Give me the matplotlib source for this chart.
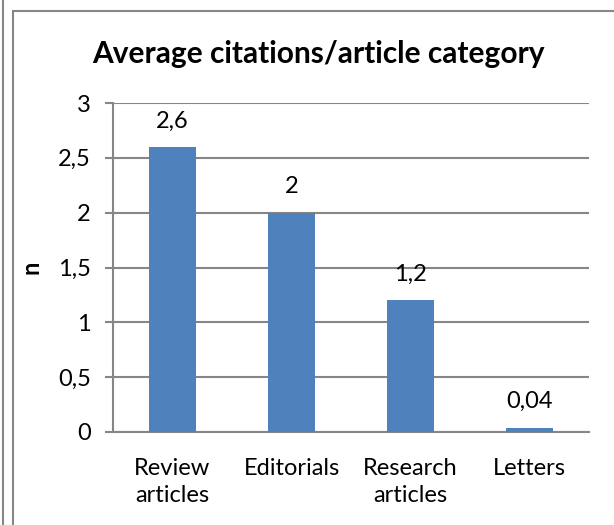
import matplotlib
matplotlib.use("Agg")
import matplotlib.pyplot as plt
from matplotlib.lines import Line2D
from matplotlib.patches import Rectangle
import numpy as np

categories = ["Review\narticles", "Editorials", "Research\narticles", "Letters"]
values = [2.6, 2.0, 1.2, 0.04]
value_labels = ["2,6", "2", "1,2", "0,04"]
yticks = [0, 0.5, 1, 1.5, 2, 2.5, 3]
ytick_labels = ["0", "0,5", "1", "1,5", "2", "2,5", "3"]

plt.rcParams["font.family"] = ["Lato", "DejaVu Sans"]
grid_col = "#868686"
bar_col = "#4F81BD"

fig = plt.figure(figsize=(6.14, 5.25), dpi=100)
W, H = 614, 525

# chart frame lines
fig.add_artist(Line2D([2.5 / W, 2.5 / W], [0, 1], color=grid_col, lw=1.5))
fig.add_artist(Rectangle((13 / W, -0.1), 1.2, 1 - 11 / H + 0.1, transform=fig.transFigure,
                         fill=False, edgecolor=grid_col, lw=1.5))

ax = fig.add_axes([113 / W, 1 - 432 / H, (589 - 113) / W, (432 - 103) / H])
x = np.arange(len(categories))
ax.bar(x, values, width=0.4, color=bar_col, zorder=3)
for xi, v, lab in zip(x, values, value_labels):
    ax.text(xi, v + 0.14, lab, ha="center", va="bottom", fontsize=17)

ax.set_xlim(-0.5, len(categories) - 0.5)
ax.set_ylim(0, 3)
ax.set_yticks(yticks)
ax.set_yticklabels(ytick_labels, fontsize=17)
ax.set_xticks(x)
ax.set_xticklabels(categories, fontsize=17, linespacing=1.35)
ax.tick_params(axis="x", length=0, pad=19)
ax.tick_params(axis="y", length=6, width=1.5, color=grid_col, pad=10)
ax.yaxis.grid(True, color=grid_col, lw=1.5, zorder=0)
for s in ["top", "right"]:
    ax.spines[s].set_visible(False)
for s in ["left", "bottom"]:
    ax.spines[s].set_color(grid_col)
    ax.spines[s].set_linewidth(1.5)

ax.set_ylabel("n", fontsize=17, fontweight="bold", labelpad=11)
fig.text(318 / W, 1 - 54 / H, "Average citations/article category", ha="center", va="center",
         fontsize=21.5, fontweight="bold")

fig.savefig("out.png", dpi=100)
